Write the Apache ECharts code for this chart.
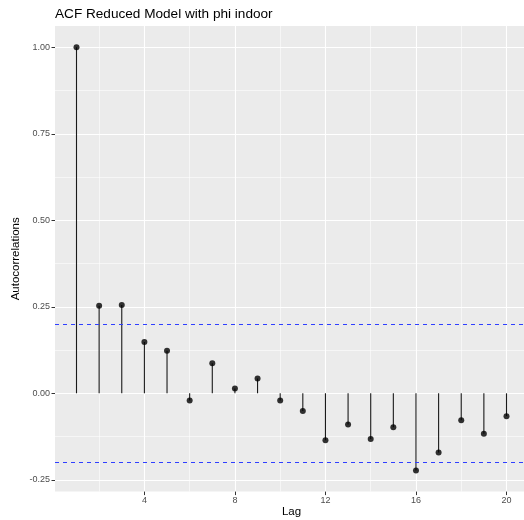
<!DOCTYPE html>
<html>
<head>
<meta charset="utf-8">
<script src="https://cdn.jsdelivr.net/npm/echarts@6/dist/echarts.min.js"></script>
<style>
html,body{margin:0;padding:0;background:#fff;}
#chart{width:524px;height:520px;}
</style>
</head>
<body>
<div id="chart"></div>
<script>
const lags = [1,2,3,4,5,6,7,8,9,10,11,12,13,14,15,16,17,18,19,20];
const acf = [1.0,0.253,0.255,0.148,0.123,-0.021,0.087,0.014,0.043,-0.021,-0.051,-0.136,-0.090,-0.132,-0.098,-0.223,-0.171,-0.078,-0.117,-0.066];
const ciBound = 0.202;
const xMajorTicks = [4,8,12,16,20];
const xMinorTicks = [2,6,10,14,18];
const yMajorTicks = [-0.25,0,0.25,0.5,0.75,1.0];
const yMinorTicks = [-0.125,0.125,0.375,0.625,0.875];

const FONT = 'Liberation Sans, Arial, Helvetica, sans-serif';
const data = lags.map((l,i)=>[l, acf[i]]);
const xMin = 0.05, xMax = 20.95, yMin = -0.2841, yMax = 1.0616;

const chart = echarts.init(document.getElementById('chart'), null, {renderer:'canvas'});
chart.setOption({
  animation:false,
  backgroundColor:'#ffffff',
  title:{
    text:'ACF Reduced Model with phi indoor',
    left:55, top:7, padding:0,
    textStyle:{fontFamily:FONT,fontSize:13.6,fontWeight:'normal',color:'#000000'}
  },
  grid:{
    left:55, top:26, right:-4, bottom:28.4,
    show:true, backgroundColor:'#EBEBEB', borderWidth:0,
    containLabel:false, outerBoundsMode:'none'
  },
  xAxis:[{
    type:'value', min:xMin, max:xMax, position:'bottom',
    name:'Lag', nameLocation:'middle', nameGap:14, nameMoveOverlap:false,
    nameTextStyle:{fontFamily:FONT,fontSize:11.5,color:'#000000'},
    axisLine:{show:false,onZero:false},
    axisTick:{show:true,length:3.5,customValues:xMajorTicks,lineStyle:{color:'#333333',width:1}},
    axisLabel:{customValues:xMajorTicks,fontFamily:FONT,fontSize:9,color:'#4D4D4D',margin:4.5},
    splitLine:{show:true,lineStyle:{color:'#FFFFFF',width:1.1}}
  },{
    type:'value', min:xMin, max:xMax, position:'top',
    axisLine:{show:false,onZero:false},
    axisTick:{show:false,customValues:xMinorTicks},
    axisLabel:{show:false,customValues:xMinorTicks},
    splitLine:{show:true,lineStyle:{color:'#FFFFFF',width:0.55}}
  }],
  yAxis:[{
    type:'value', min:yMin, max:yMax, position:'left',
    name:'Autocorrelations', nameLocation:'middle', nameGap:33, nameRotate:90, nameMoveOverlap:false,
    nameTextStyle:{fontFamily:FONT,fontSize:11.5,color:'#000000'},
    axisLine:{show:false,onZero:false},
    axisTick:{show:true,length:3.5,customValues:yMajorTicks,lineStyle:{color:'#333333',width:1}},
    axisLabel:{customValues:yMajorTicks,fontFamily:FONT,fontSize:9,color:'#4D4D4D',margin:5,
      formatter:function(v){return Number(v).toFixed(2);}},
    splitLine:{show:true,lineStyle:{color:'#FFFFFF',width:1.1}}
  },{
    type:'value', min:yMin, max:yMax, position:'right',
    axisLine:{show:false,onZero:false},
    axisTick:{show:false,customValues:yMinorTicks},
    axisLabel:{show:false,customValues:yMinorTicks},
    splitLine:{show:true,lineStyle:{color:'#FFFFFF',width:0.55}}
  }],
  series:[{
    type:'custom',
    xAxisIndex:0, yAxisIndex:0,
    data:data,
    renderItem:function(params, api){
      const x = api.value(0), y = api.value(1);
      const p0 = api.coord([x,0]);
      const p1 = api.coord([x,y]);
      return {type:'line', shape:{x1:p0[0],y1:p0[1],x2:p1[0],y2:p1[1]},
        style:{stroke:'#1a1a1a',lineWidth:1.1}};
    },
    silent:true, z:2
  },{
    type:'scatter',
    xAxisIndex:0, yAxisIndex:0,
    data:data,
    symbol:'circle', symbolSize:6,
    itemStyle:{color:'#000000'},
    silent:true, z:3,
    markLine:{
      silent:true, symbol:['none','none'],
      label:{show:false},
      lineStyle:{color:'#2f3fff',type:[4,4],width:1.1},
      data:[{yAxis:ciBound},{yAxis:-ciBound}]
    }
  }]
});
</script>
</body>
</html>
